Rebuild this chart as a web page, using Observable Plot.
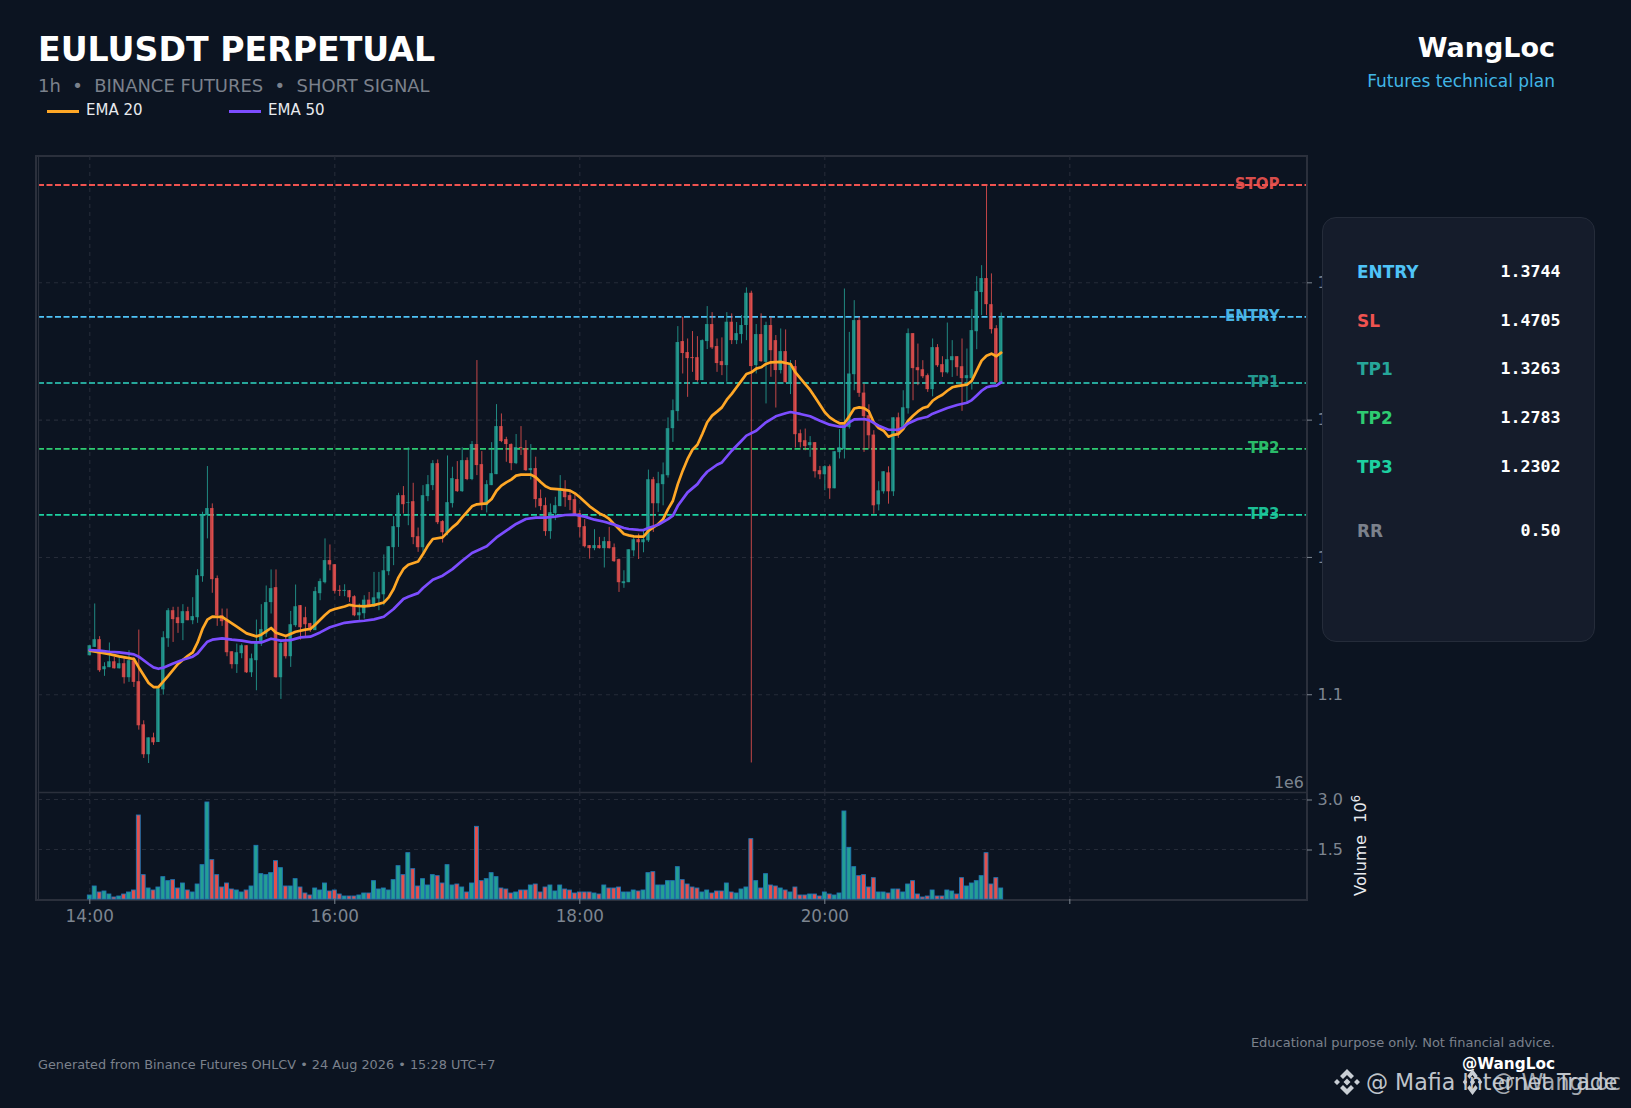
<!DOCTYPE html>
<html>
<head>
<meta charset="utf-8">
<title>EULUSDT PERPETUAL</title>
<script src="https://cdn.jsdelivr.net/npm/d3@7"></script>
<script src="https://cdn.jsdelivr.net/npm/@observablehq/plot@0.6"></script>
<style>
  html, body { margin: 0; padding: 0; background: #0c1421; }
  body { position: relative; width: 1631px; height: 1108px; overflow: hidden; font-family: "DejaVu Sans", sans-serif; }
  #chart svg { position: absolute; left: 0; background: transparent; overflow: visible; }
  .t { position: absolute; white-space: pre; line-height: 1; }
  .r { transform: translateX(-100%); }
  .lg { position: absolute; height: 2.6px; width: 32px; }
  #outer { position: absolute; left: 35px; top: 155px; width: 1268.500px; height: 741.500px; border: 2px solid #2b303c; }
  #panel { position: absolute; left: 1322px; top: 217px; width: 271px; height: 423px; border-radius: 14px; background: #151c2b; border: 1.5px solid #252c3a; box-sizing: content-box; }
  .wm { position: absolute; fill: #c9ced4; }
</style>
</head>
<body>
<div id="outer"></div>
<div id="chart"></div>

<div class="t" style="left:38px;top:33px;font-size:33.2px;font-weight:700;color:#fff">EULUSDT PERPETUAL</div>
<div class="t" style="left:38px;top:77px;font-size:17.95px;color:#7b818c">1h  •  BINANCE FUTURES  •  SHORT SIGNAL</div>
<div class="lg" style="left:47px;top:110px;background:#ffa726"></div>
<div class="t" style="left:86px;top:103px;font-size:15px;color:#e8eaee">EMA 20</div>
<div class="lg" style="left:229px;top:110px;background:#7c4dff"></div>
<div class="t" style="left:268px;top:103px;font-size:15px;color:#e8eaee">EMA 50</div>
<div class="t r" style="left:1555px;top:34px;font-size:27px;font-weight:700;color:#fff">WangLoc</div>
<div class="t r" style="left:1555px;top:72.500px;font-size:17px;color:#41b6e6">Futures technical plan</div>

<div class="t" style="left:1274px;top:775px;font-size:15.8px;color:#7d8590">1e6</div>
<div class="t" style="left:1353px;top:896px;font-size:16.4px;color:#e8eaee;transform-origin:0 0;transform:rotate(-90deg)">Volume<span style="margin-left:12px">10</span><span style="font-size:11.5px;position:relative;top:-6px">6</span></div>

<div id="panel"></div>
<div id="rows"></div>

<div class="t" style="left:38px;top:1059px;font-size:12.85px;color:#7b818c">Generated from Binance Futures OHLCV • 24 Aug 2026 • 15:28 UTC+7</div>
<div class="t r" style="left:1555px;top:1036px;font-size:13px;color:#7b818c">Educational purpose only. Not financial advice.</div>
<div class="t r" style="left:1555px;top:1057px;font-size:15.3px;font-weight:700;color:#fff">@WangLoc</div>

<svg class="wm" style="left:1333px;top:1068px" width="28" height="28" viewBox="0 0 28 28"><path d="M14 1l7 7-3 3-4-4-4 4-3-3zM14 27l7-7-3-3-4 4-4-4-3 3zM1 14l3-3 3 3-3 3zM21 14l3-3 3 3-3 3zM14 10.500l3.500 3.500-3.500 3.500-3.500-3.500z"/></svg>
<svg class="wm" style="left:1462px;top:1068px" width="21" height="28" viewBox="0 0 28 28" preserveAspectRatio="none"><path d="M14 1l7 7-3 3-4-4-4 4-3-3zM14 27l7-7-3-3-4 4-4-4-3 3zM1 14l3-3 3 3-3 3zM21 14l3-3 3 3-3 3zM14 10.500l3.500 3.500-3.500 3.500-3.500-3.500z"/></svg>
<div class="t" style="left:1366px;top:1071px;font-size:22.1px;color:#c9ced4;opacity:.95">@ Mafia Internet Trade</div>
<div class="t r" style="left:1621px;top:1071px;font-size:22.1px;color:#c9ced4;opacity:.8">@ WangLoc</div>

<script>
const opens = [
1.1284,1.1345,1.1401,1.1182,1.1197,1.1240,1.1189,1.1226,1.1124,1.1248,
1.1095,1.0781,1.0563,1.0686,1.0652,1.1036,1.1408,1.1612,1.1561,1.1518,
1.1605,1.1539,1.1561,1.1860,1.2305,1.2356,1.1846,1.1576,1.1539,1.1313,
1.1219,1.1299,1.1357,1.1160,1.1248,1.1372,1.1442,1.1671,1.1780,1.1124,
1.1379,1.1277,1.1503,1.1649,1.1561,1.1518,1.1467,1.1736,1.1816,1.1977,
1.1947,1.1760,1.1753,1.1758,1.1714,1.1575,1.1590,1.1689,1.1641,1.1697,
1.1728,1.1896,1.2071,1.2217,1.2450,1.2394,1.2406,1.2151,1.2071,1.2443,
1.2523,1.2683,1.2261,1.2180,1.2392,1.2567,1.2479,1.2705,1.2567,1.2822,
1.2676,1.2377,1.2523,1.2603,1.2953,1.2858,1.2822,1.2683,1.2800,1.2793,
1.2632,1.2647,1.2428,1.2377,1.2188,1.2319,1.2370,1.2487,1.2450,1.2421,
1.2319,1.2224,1.2086,1.2064,1.2086,1.2064,1.2115,1.2071,1.1984,1.1809,
1.1816,1.2048,1.2129,1.2107,1.2121,1.2566,1.2391,1.2530,1.2595,1.2938,
1.3062,1.3572,1.3492,1.3455,1.3455,1.3288,1.3572,1.3696,1.3536,1.3426,
1.3397,1.3713,1.3579,1.3623,1.3689,1.3924,1.3397,1.3623,1.3421,1.3689,
1.3579,1.3361,1.3499,1.3266,1.3390,1.2901,1.2850,1.2814,1.2836,1.2632,
1.2602,1.2661,1.2500,1.2763,1.2785,1.2947,1.3331,1.3725,1.3197,1.3032,
1.2891,1.2383,1.2478,1.2616,1.2478,1.3017,1.2947,1.3083,1.3630,1.3382,
1.3367,1.3324,1.3222,1.3528,1.3404,1.3345,1.3433,1.3462,1.3389,1.3302,
1.3302,1.3644,1.3929,1.4031,1.3841,1.3666,1.3270];
const closes = [
1.1357,1.1401,1.1175,1.1204,1.1240,1.1189,1.1226,1.1124,1.1248,1.1090,
1.0774,1.0563,1.0686,1.0650,1.1044,1.1415,1.1612,1.1547,1.1518,1.1605,
1.1539,1.1569,1.1867,1.2312,1.2356,1.1838,1.1576,1.1532,1.1306,1.1219,
1.1306,1.1357,1.1160,1.1262,1.1386,1.1474,1.1671,1.1773,1.1124,1.1372,
1.1277,1.1510,1.1641,1.1488,1.1510,1.1467,1.1751,1.1824,1.1977,1.1945,
1.1753,1.1753,1.1760,1.1706,1.1575,1.1597,1.1689,1.1634,1.1706,1.1743,
1.1903,1.2078,1.2224,1.2450,1.2384,1.2399,1.2144,1.2071,1.2450,1.2530,
1.2683,1.2253,1.2180,1.2399,1.2574,1.2479,1.2705,1.2567,1.2822,1.2669,
1.2384,1.2530,1.2610,1.2953,1.2844,1.2822,1.2683,1.2800,1.2793,1.2632,
1.2647,1.2421,1.2370,1.2188,1.2326,1.2377,1.2487,1.2435,1.2414,1.2312,
1.2217,1.2078,1.2064,1.2086,1.2064,1.2115,1.2064,1.1969,1.1816,1.1823,
1.2056,1.2129,1.2107,1.2129,1.2566,1.2391,1.2537,1.2602,1.2938,1.3069,
1.3565,1.3485,1.3448,1.3448,1.3288,1.3579,1.3696,1.3526,1.3412,1.3397,
1.3713,1.3579,1.3630,1.3689,1.3924,1.3390,1.3623,1.3426,1.3689,1.3506,
1.3361,1.3499,1.3273,1.3397,1.2894,1.2836,1.2807,1.2836,1.2624,1.2602,
1.2661,1.2500,1.2770,1.2799,1.2960,1.3336,1.3725,1.3195,1.3025,1.2886,
1.2376,1.2485,1.2624,1.2478,1.3017,1.2898,1.3090,1.3630,1.3375,1.3360,
1.3316,1.3222,1.3528,1.3396,1.3345,1.3440,1.3462,1.3382,1.3302,1.3324,
1.3652,1.3936,1.4031,1.3841,1.3659,1.3273,1.3746];
const highs = [
1.1357,1.1661,1.1423,1.1233,1.1377,1.1272,1.1272,1.1272,1.1321,1.1272,
1.1471,1.0810,1.0686,1.0720,1.1053,1.1459,1.1627,1.1637,1.1637,1.1656,
1.1637,1.1707,1.1911,1.2329,1.2662,1.2390,1.1865,1.1624,1.1624,1.1313,
1.1369,1.1369,1.1357,1.1296,1.1544,1.1656,1.1792,1.1909,1.1909,1.1394,
1.1418,1.1607,1.1799,1.1649,1.1637,1.1520,1.1782,1.1843,1.2135,1.2091,
1.1947,1.1794,1.1801,1.1758,1.1721,1.1660,1.1721,1.1745,1.1891,1.1891,
1.2018,1.2078,1.2297,1.2467,1.2516,1.2798,1.2540,1.2214,1.2523,1.2596,
1.2705,1.2710,1.2268,1.2739,1.2657,1.2698,1.2798,1.2725,1.2844,1.3434,
1.2771,1.2559,1.2836,1.3113,1.3045,1.2875,1.2827,1.2895,1.2953,1.2851,
1.2822,1.2730,1.2491,1.2433,1.2389,1.2438,1.2596,1.2559,1.2487,1.2462,
1.2341,1.2275,1.2086,1.2202,1.2146,1.2146,1.2219,1.2098,1.1988,1.1903,
1.2056,1.2146,1.2170,1.2194,1.2636,1.2583,1.2620,1.2688,1.3016,1.3147,
1.3681,1.3749,1.3591,1.3645,1.3608,1.3584,1.3827,1.3783,1.3591,1.3599,
1.3783,1.3774,1.3711,1.3762,1.3963,1.3939,1.3696,1.3774,1.3713,1.3749,
1.3616,1.3664,1.3657,1.3434,1.3434,1.2928,1.2935,1.2880,1.2836,1.2663,
1.2668,1.2673,1.2770,1.2931,1.3955,1.3639,1.3870,1.3749,1.3263,1.3112,
1.2923,1.2551,1.2624,1.2660,1.3017,1.3051,1.3214,1.3664,1.3630,1.3554,
1.3433,1.3336,1.3591,1.3550,1.3462,1.3707,1.3579,1.3462,1.3591,1.3518,
1.3805,1.4045,1.4125,1.4709,1.4065,1.3688,1.3780];
const lows = [
1.1284,1.1345,1.1163,1.1134,1.1197,1.1187,1.1187,1.1078,1.1090,1.1053,
1.0742,1.0536,1.0499,1.0631,1.0652,1.0997,1.1345,1.1381,1.1447,1.1394,
1.1539,1.1510,1.1520,1.1819,1.2135,1.1739,1.1498,1.1498,1.1277,1.1187,
1.1155,1.1262,1.1155,1.1126,1.1029,1.1352,1.1418,1.1588,1.1121,1.0966,
1.1260,1.1199,1.1491,1.1398,1.1418,1.1454,1.1467,1.1685,1.1807,1.1903,
1.1733,1.1716,1.1714,1.1672,1.1568,1.1539,1.1551,1.1634,1.1636,1.1612,
1.1648,1.1867,1.1940,1.2073,1.2316,1.2231,1.2093,1.2037,1.2037,1.2406,
1.2487,1.2239,1.2105,1.2158,1.2360,1.2474,1.2474,1.2559,1.2559,1.2596,
1.2341,1.2324,1.2523,1.2603,1.2836,1.2693,1.2632,1.2676,1.2742,1.2627,
1.2564,1.2360,1.2341,1.2154,1.2132,1.2268,1.2370,1.2365,1.2341,1.2304,
1.2141,1.2069,1.1988,1.2049,1.2061,1.1923,1.2061,1.1964,1.1745,1.1775,
1.1816,1.2005,1.1985,1.2034,1.2109,1.2182,1.2328,1.2376,1.2578,1.2838,
1.2991,1.3336,1.3166,1.3348,1.3276,1.3288,1.3514,1.3514,1.3348,1.3324,
1.3276,1.3550,1.3550,1.3555,1.3579,1.0503,1.3336,1.3421,1.3118,1.3312,
1.3088,1.3336,1.3271,1.3186,1.2797,1.2797,1.2777,1.2729,1.2578,1.2566,
1.2486,1.2423,1.2500,1.2717,1.2717,1.2935,1.3214,1.3166,1.2765,1.2789,
1.2315,1.2339,1.2461,1.2388,1.2444,1.2867,1.2935,1.3044,1.3141,1.3251,
1.3302,1.3202,1.3170,1.3384,1.3311,1.3336,1.3311,1.3319,1.3064,1.3117,
1.3219,1.3513,1.3761,1.3761,1.3627,1.3270,1.3263];
const volumesM = [
.12,.39,.21,.24,.15,.06,.09,.15,.21,.27,
2.52,.73,.33,.27,.36,.67,.55,.58,.33,.48,
.27,.21,.45,1.03,2.91,1.18,.73,.36,.48,.30,
.27,.21,.27,.39,1.61,.76,.73,.79,1.15,.94,
.39,.39,.61,.36,.18,.12,.33,.27,.48,.24,
.27,.15,.09,.09,.09,.12,.18,.18,.55,.30,
.33,.27,.58,1.00,.73,1.39,.91,.39,.61,.42,
.73,.70,.48,1.03,.42,.45,.36,.21,.48,2.18,
.55,.61,.79,.67,.33,.30,.18,.21,.27,.27,
.42,.45,.21,.36,.42,.24,.42,.30,.27,.18,
.21,.21,.21,.18,.15,.42,.33,.33,.36,.21,
.21,.27,.24,.27,.79,.82,.42,.42,.55,.55,
.97,.58,.45,.36,.33,.21,.27,.18,.24,.24,
.48,.21,.18,.30,.36,1.81,.55,.33,.76,.42,
.39,.33,.27,.21,.36,.12,.12,.15,.15,.09,
.21,.15,.12,.18,2.64,1.55,.97,.70,.73,.36,
.64,.21,.21,.18,.30,.30,.21,.45,.55,.15,
.06,.09,.27,.09,.09,.27,.24,.15,.64,.39,
.48,.55,.70,1.39,.45,.64,.33];

const ema20Bars = [0,2,4,6,8,9,10,12,13,14,16,18,20,21,22,23,24,25,27,28,30,32,34,35,37,38,40,42,44,45,46,48,49,
50,52,53,54,56,58,60,61,62,63,64,65,67,68,69,70,72,74,75,76,78,79,81,82,83,84,85,86,87,88,90,91,92,93,94,96,98,99,100,102,104,105,106,107,108,109,110,
111,112,113,114,115,116,117,118,119,120,121,122,123,124,125,126,127,128,129,130,131,132,133,134,135,136,137,138,139,141,143,144,146,147,148,150,151,152,153,154,155,
156,157,158,159,160,161,162,163,164,165,166,167,168,169,170,171,172,173,174,175,176,177,178,179,180,181,182,183,184,185,186];
const ema20 = [1.1321,1.1309,1.1296,1.1279,1.1267,1.1260,1.1199,1.1085,1.1056,1.1056,1.1138,1.1224,1.1284,1.1309,1.1381,1.1479,1.1547,1.1569,1.1566,1.1544,1.1496,1.1447,1.1425,1.1437,1.1486,1.1452,1.1428,1.1459,1.1474,1.1479,1.1510,1.1581,1.1612,
1.1624,1.1643,1.1655,1.1648,1.1643,1.1653,1.1672,1.1709,1.1770,1.1855,1.1915,1.1947,1.1971,1.2025,1.2086,1.2134,1.2146,1.2219,1.2248,1.2292,1.2372,1.2387,1.2394,1.2426,1.2486,1.2523,1.2547,1.2567,1.2596,1.2603,1.2603,1.2584,1.2550,1.2518,1.2501,1.2496,1.2487,1.2467,1.2438,1.2372,1.2321,1.2304,1.2280,1.2243,1.2207,1.2171,1.2161,
1.2153,1.2151,1.2151,1.2194,1.2218,1.2243,1.2279,1.2352,1.2413,1.2534,1.2632,1.2717,1.2785,1.2821,1.2899,1.2984,1.3033,1.3062,1.3093,1.3149,1.3191,1.3239,1.3288,1.3336,1.3348,1.3375,1.3385,1.3409,1.3421,1.3424,1.3409,1.3348,1.3263,1.3220,1.3166,1.3057,1.3020,1.2996,1.2977,1.2977,1.3028,
1.3085,1.3093,1.3088,1.3063,1.2983,1.2942,1.2923,1.2879,1.2893,1.2898,1.2935,1.2996,1.3032,1.3063,1.3088,1.3098,1.3141,1.3166,1.3185,1.3214,1.3239,1.3248,1.3253,1.3258,1.3287,1.3360,1.3433,1.3469,1.3484,1.3465,1.3491];

const ema50Bars = [0,2,4,6,8,9,10,12,13,14,15,17,19,21,22,23,24,25,27,29,31,33,35,37,39,41,43,45,47,49,
50,52,54,56,58,60,62,64,65,67,68,70,72,74,76,78,79,81,83,85,87,89,91,93,95,97,99,101,103,105,107,109,110,
112,113,114,116,118,119,120,122,124,125,126,128,129,131,133,134,136,138,140,142,143,145,147,149,151,153,
154,155,156,158,159,161,163,165,166,167,169,171,172,175,177,179,180,181,182,183,184,185,186];
const ema50 = [1.1326,1.1321,1.1313,1.1309,1.1299,1.1294,1.1277,1.1224,1.1199,1.1189,1.1197,1.1228,1.1255,1.1277,1.1301,1.1345,1.1386,1.1401,1.1411,1.1401,1.1394,1.1381,1.1381,1.1408,1.1394,1.1398,1.1418,1.1423,1.1454,1.1491,
1.1502,1.1524,1.1532,1.1539,1.1549,1.1568,1.1624,1.1697,1.1714,1.1740,1.1777,1.1838,1.1867,1.1915,1.1976,1.2032,1.2049,1.2081,1.2146,1.2195,1.2244,1.2280,1.2290,1.2290,1.2297,1.2309,1.2312,1.2297,1.2275,1.2260,1.2239,1.2214,1.2207,
1.2201,1.2199,1.2214,1.2238,1.2279,1.2304,1.2376,1.2474,1.2534,1.2583,1.2624,1.2675,1.2692,1.2777,1.2850,1.2887,1.2923,1.2984,1.3028,1.3050,1.3059,1.3045,1.3028,1.2996,1.2967,1.2952,
1.2952,1.2983,1.3005,1.3008,1.3000,1.2959,1.2930,1.2930,1.2947,1.2976,1.3008,1.3025,1.3047,1.3088,1.3110,1.3127,1.3146,1.3180,1.3214,1.3239,1.3248,1.3251,1.3275];

const levelNames  = ["STOP","ENTRY","TP1","TP2","TP3"];
const levelPrices = [1.4705,1.3744,1.3263,1.2783,1.2302];
const levelColors = ["#ef5350","#4fc3f7","#26a69a","#2ecc71","#1dd1a1"];
const panelRows = [["ENTRY","1.3744","#4fc3f7",273],["SL","1.4705","#ef5350",322],["TP1","1.3263","#26a69a",370],["TP2","1.2783","#2ecc71",419],["TP3","1.2302","#1dd1a1",468],["RR","0.50","#7b818c",532]];
const priceTicks = [1.1,1.2,1.3,1.4];
const volumeTicks = [1.5,3.0];
const barTicks = [0,50,100,150,200];
const barTickLabels = ["14:00","16:00","18:00","20:00",""];

const UP = "#26a69a", DOWN = "#ef5350", GRID = "#252b38", FRAME = "#2b303c", TICK = "#7d8590";
const bars = opens.map((o, i) => ({i, open: o, close: closes[i], high: highs[i], low: lows[i], vol: volumesM[i], color: closes[i] >= o ? UP : DOWN}));
const levels = levelNames.map((name, k) => ({name, price: levelPrices[k], color: levelColors[k]}));
const line20 = ema20Bars.map((i, k) => ({i, v: ema20[k]}));
const line50 = ema50Bars.map((i, k) => ({i, v: ema50[k]}));

const xOpts = {type: "linear", domain: [-10.47, 248.3]};
const common = {width: 1631, marginLeft: 38, marginRight: 325, style: {background: "transparent", fontFamily: "DejaVu Sans"}, color: {type: "identity"}};

const price = Plot.plot({
  ...common, height: 792, marginTop: 156, marginBottom: 0,
  x: {...xOpts, axis: null},
  y: {domain: [1.0288, 1.4920], axis: null},
  marks: [
    Plot.ruleY(priceTicks, {stroke: GRID, strokeWidth: 1.1, strokeDasharray: "4 4"}),
    Plot.ruleX(barTicks, {stroke: GRID, strokeWidth: 1.1, strokeDasharray: "4 4"}),
    Plot.text(levels, {x: 242.8, y: "price", text: "name", fill: "color", textAnchor: "end", fontWeight: 700, fontSize: 15, fillOpacity: .92, dy: -1.5}),
    Plot.ruleY(levels, {y: "price", stroke: "color", strokeWidth: 1.8, strokeDasharray: "6 2.5", dy: -1}),
    Plot.ruleX(bars, {x: "i", y1: "low", y2: "high", stroke: "color", strokeWidth: 1, strokeOpacity: .8}),
    Plot.rect(bars, {x1: d => d.i - .36, x2: d => d.i + .36, y1: "open", y2: "close", fill: "color", fillOpacity: .8}),
    Plot.line(line20, {x: "i", y: "v", stroke: "#ffa726", strokeWidth: 2.7, curve: "linear"}),
    Plot.line(line50, {x: "i", y: "v", stroke: "#7c4dff", strokeWidth: 2.7, curve: "linear"}),
    Plot.axisY({anchor: "right", ticks: priceTicks, tickFormat: d3.format(".1f"), tickSize: 5, tickPadding: 6, fontSize: 16, color: TICK, label: null}),
    Plot.frame({anchor: "left", stroke: FRAME, strokeWidth: 1.2}),
    Plot.frame({anchor: "bottom", stroke: FRAME, strokeWidth: 1.4})
  ]
});
price.style.top = "0px";

const volume = Plot.plot({
  ...common, height: 316, marginTop: 0, marginBottom: 209,
  x: {...xOpts, axis: null},
  y: {domain: [0, 3.21], axis: null},
  marks: [
    Plot.ruleY(volumeTicks, {stroke: GRID, strokeWidth: 1.1, strokeDasharray: "4 4"}),
    Plot.ruleX(barTicks, {stroke: GRID, strokeWidth: 1.1, strokeDasharray: "4 4"}),
    Plot.rect(bars, {x1: d => d.i - .4, x2: d => d.i + .4, y1: 0, y2: "vol", fill: "color", fillOpacity: .95, stroke: "#1f77b4", strokeWidth: .9}),
    Plot.axisY({anchor: "right", ticks: volumeTicks, tickFormat: d3.format(".1f"), tickSize: 5, tickPadding: 6, fontSize: 16, color: TICK, label: null, dy: .5}),
    Plot.axisX({anchor: "bottom", ticks: barTicks, tickFormat: d => barTickLabels[barTicks.indexOf(d)], tickSize: 5, tickPadding: 6, fontSize: 16.8, color: TICK, label: null}),
    Plot.frame({anchor: "left", stroke: FRAME, strokeWidth: 1.2})
  ]
});
volume.style.top = "792px";

document.getElementById("chart").append(price, volume);

const rows = document.getElementById("rows");
for (const [name, val, col, cy] of panelRows) {
  const a = document.createElement("div");
  a.className = "t";
  a.style.cssText = `left:1357px;top:${cy - 9}px;font-size:16.9px;font-weight:700;color:${col}`;
  a.textContent = name;
  const b = document.createElement("div");
  b.className = "t r";
  b.style.cssText = `left:1560.500px;top:${cy - 9}px;font-size:16.6px;font-weight:700;color:#fff;font-family:'DejaVu Sans Mono'`;
  b.textContent = val;
  rows.append(a, b);
}
</script>
</body>
</html>
